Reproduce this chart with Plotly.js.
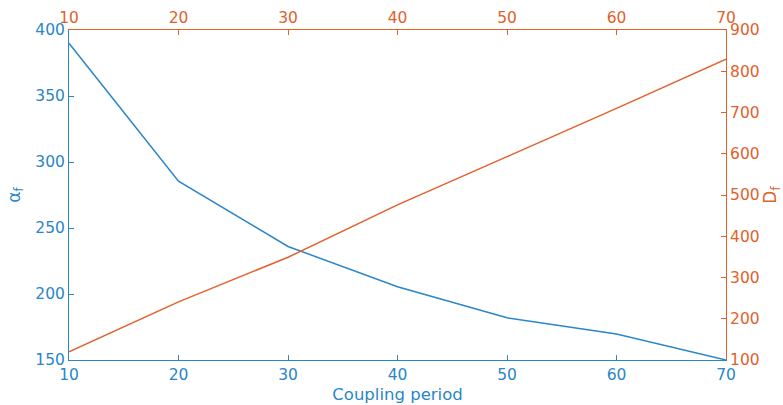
<!DOCTYPE html>
<html><head><meta charset="utf-8">
<script src="https://cdn.plot.ly/plotly-3.0.1.min.js"></script>
<style>body{margin:0;background:#fff}#c{width:783px;height:405px}</style>
</head><body><div id="c"></div>
<script>
const period = [10, 20, 30, 40, 50, 60, 70];
const alphaF = [390, 285.5, 236, 205.5, 182, 169.7, 150];
const dF = [120, 241, 349, 476, 593, 710, 829];
const xTicks = [10, 20, 30, 40, 50, 60, 70];
const leftTicks = [150, 200, 250, 300, 350, 400];
const rightTicks = [100, 200, 300, 400, 500, 600, 700, 800, 900];

const BLUE = '#2a86c8';
const ORANGE = '#e2612b';
const F = 'DejaVu Sans, sans-serif';

const data = [
  {x: period, y: alphaF, type: 'scatter', mode: 'lines', line: {color: BLUE, width: 1.5}, xaxis: 'x', yaxis: 'y'},
  {x: period, y: dF, type: 'scatter', mode: 'lines', line: {color: ORANGE, width: 1.5}, xaxis: 'x2', yaxis: 'y2'}
];
const common = {showgrid: false, zeroline: false, ticks: 'inside', ticklen: 5, tickwidth: 1, showline: true, linewidth: 1};
const layout = {
  width: 783, height: 405,
  margin: {l: 69, r: 57, t: 30, b: 45},
  paper_bgcolor: '#fff', plot_bgcolor: '#fff',
  showlegend: false,
  font: {family: F, size: 15},
  xaxis: Object.assign({}, common, {range: [10, 70], tickvals: xTicks, ticktext: xTicks.map(String),
    color: BLUE, linecolor: BLUE, tickcolor: BLUE, tickfont: {family: F, size: 15.5, color: BLUE},
    title: {text: 'Coupling period', font: {family: F, size: 16.5, color: BLUE}, standoff: 5}}),
  xaxis2: Object.assign({}, common, {range: [10, 70], tickvals: xTicks, ticktext: xTicks.map(String), overlaying: 'x', side: 'top',
    color: ORANGE, linecolor: ORANGE, tickcolor: ORANGE, tickfont: {family: F, size: 15.5, color: ORANGE}}),
  yaxis: Object.assign({}, common, {range: [150, 400], tickvals: leftTicks, ticktext: leftTicks.map(String),
    color: BLUE, linecolor: BLUE, tickcolor: BLUE, tickfont: {family: F, size: 15.5, color: BLUE},
    title: {text: 'α<sub>f</sub>', font: {family: F, size: 17, color: BLUE}, standoff: 10}}),
  yaxis2: Object.assign({}, common, {range: [100, 900], tickvals: rightTicks, ticktext: rightTicks.map(String), overlaying: 'y', side: 'right',
    color: ORANGE, linecolor: ORANGE, tickcolor: ORANGE, tickfont: {family: F, size: 15.5, color: ORANGE},
    title: {text: 'D<sub>f</sub>', font: {family: F, size: 17, color: ORANGE}, standoff: 6}})
};
Plotly.newPlot('c', data, layout, {staticPlot: true, displayModeBar: false});
</script></body></html>
